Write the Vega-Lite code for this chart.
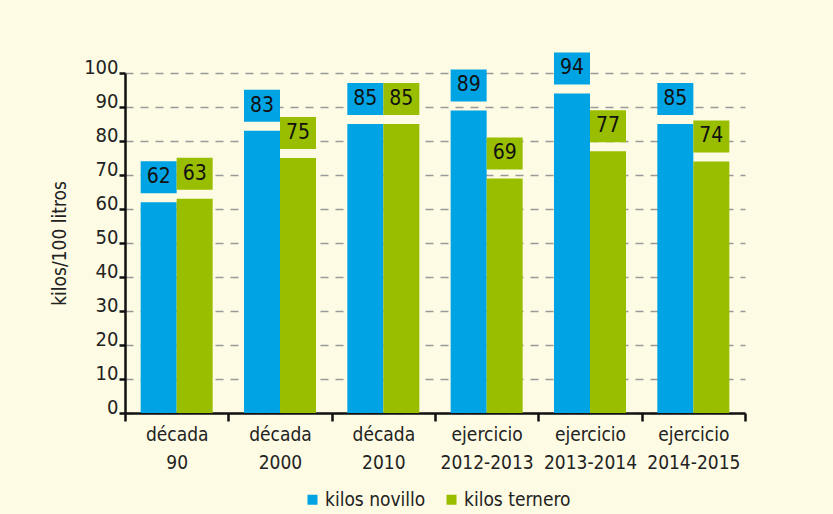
{
  "$schema": "https://vega.github.io/schema/vega-lite/v6.json",
  "autosize": "none",
  "width": 620,
  "height": 340,
  "padding": {"left": 125, "top": 73, "right": 88, "bottom": 101},
  "background": "#FDFBE3",
  "config": {
    "font": "DejaVu Sans Condensed, DejaVu Sans, sans-serif",
    "view": {"stroke": null}
  },
  "data": {
    "values": [
      {"periodo": "década|90", "serie": "kilos novillo", "valor": 62},
      {"periodo": "década|90", "serie": "kilos ternero", "valor": 63},
      {"periodo": "década|2000", "serie": "kilos novillo", "valor": 83},
      {"periodo": "década|2000", "serie": "kilos ternero", "valor": 75},
      {"periodo": "década|2010", "serie": "kilos novillo", "valor": 85},
      {"periodo": "década|2010", "serie": "kilos ternero", "valor": 85},
      {"periodo": "ejercicio|2012-2013", "serie": "kilos novillo", "valor": 89},
      {"periodo": "ejercicio|2012-2013", "serie": "kilos ternero", "valor": 69},
      {"periodo": "ejercicio|2013-2014", "serie": "kilos novillo", "valor": 94},
      {"periodo": "ejercicio|2013-2014", "serie": "kilos ternero", "valor": 77},
      {"periodo": "ejercicio|2014-2015", "serie": "kilos novillo", "valor": 85},
      {"periodo": "ejercicio|2014-2015", "serie": "kilos ternero", "valor": 74}
    ]
  },
  "encoding": {
    "x": {
      "field": "periodo",
      "type": "nominal",
      "sort": null,
      "scale": {"paddingInner": 0, "paddingOuter": 0},
      "axis": {
        "title": null,
        "labelAngle": 0,
        "labelExpr": "split(datum.label, '|')",
        "labelFontSize": 19,
        "labelColor": "#222222",
        "labelLineHeight": 28,
        "labelPadding": 4,
        "tickBand": "extent",
        "tickSize": 8,
        "tickWidth": 2.5,
        "tickColor": "#111111",
        "domainColor": "#111111",
        "domainWidth": 2.5,
        "grid": false
      }
    },
    "xOffset": {
      "field": "serie",
      "type": "nominal",
      "scale": {"paddingInner": 0, "paddingOuter": 0.435}
    },
    "y": {
      "field": "valor",
      "type": "quantitative",
      "scale": {"domain": [0, 100], "nice": false},
      "axis": {
        "title": "kilos/100 litros",
        "titleFontSize": 19,
        "titleFontWeight": "normal",
        "titleColor": "#222222",
        "titlePadding": 14,
        "values": [0, 10, 20, 30, 40, 50, 60, 70, 80, 90, 100],
        "labelFontSize": 20,
        "labelColor": "#222222",
        "labelBaseline": "alphabetic",
        "labelPadding": 1,
        "tickSize": 6,
        "tickWidth": 2.5,
        "tickColor": "#111111",
        "domainColor": "#111111",
        "domainWidth": 2.5,
        "grid": true,
        "gridColor": "#9a9a9a",
        "gridDash": [8, 7],
        "gridWidth": 1.5
      }
    },
    "color": {
      "field": "serie",
      "type": "nominal",
      "scale": {"domain": ["kilos novillo", "kilos ternero"], "range": ["#00A3E4", "#99BE00"]},
      "legend": {
        "title": null,
        "orient": "none",
        "legendX": 178,
        "legendY": 417,
        "direction": "horizontal",
        "symbolType": "square",
        "symbolSize": 100,
        "symbolStrokeWidth": 0,
        "labelFontSize": 19,
        "labelColor": "#222222",
        "labelOffset": 3,
        "columnPadding": 16
      }
    }
  },
  "layer": [
    {"mark": {"type": "bar"}},
    {
      "mark": {"type": "bar", "yOffset": -41, "y2Offset": -9},
      "encoding": {"y2": {"field": "valor"}}
    },
    {
      "mark": {"type": "text", "dy": -25, "baseline": "middle", "fontSize": 21, "color": "#111111"},
      "encoding": {"text": {"field": "valor", "type": "quantitative"}, "color": {"value": "#111111"}}
    }
  ]
}
